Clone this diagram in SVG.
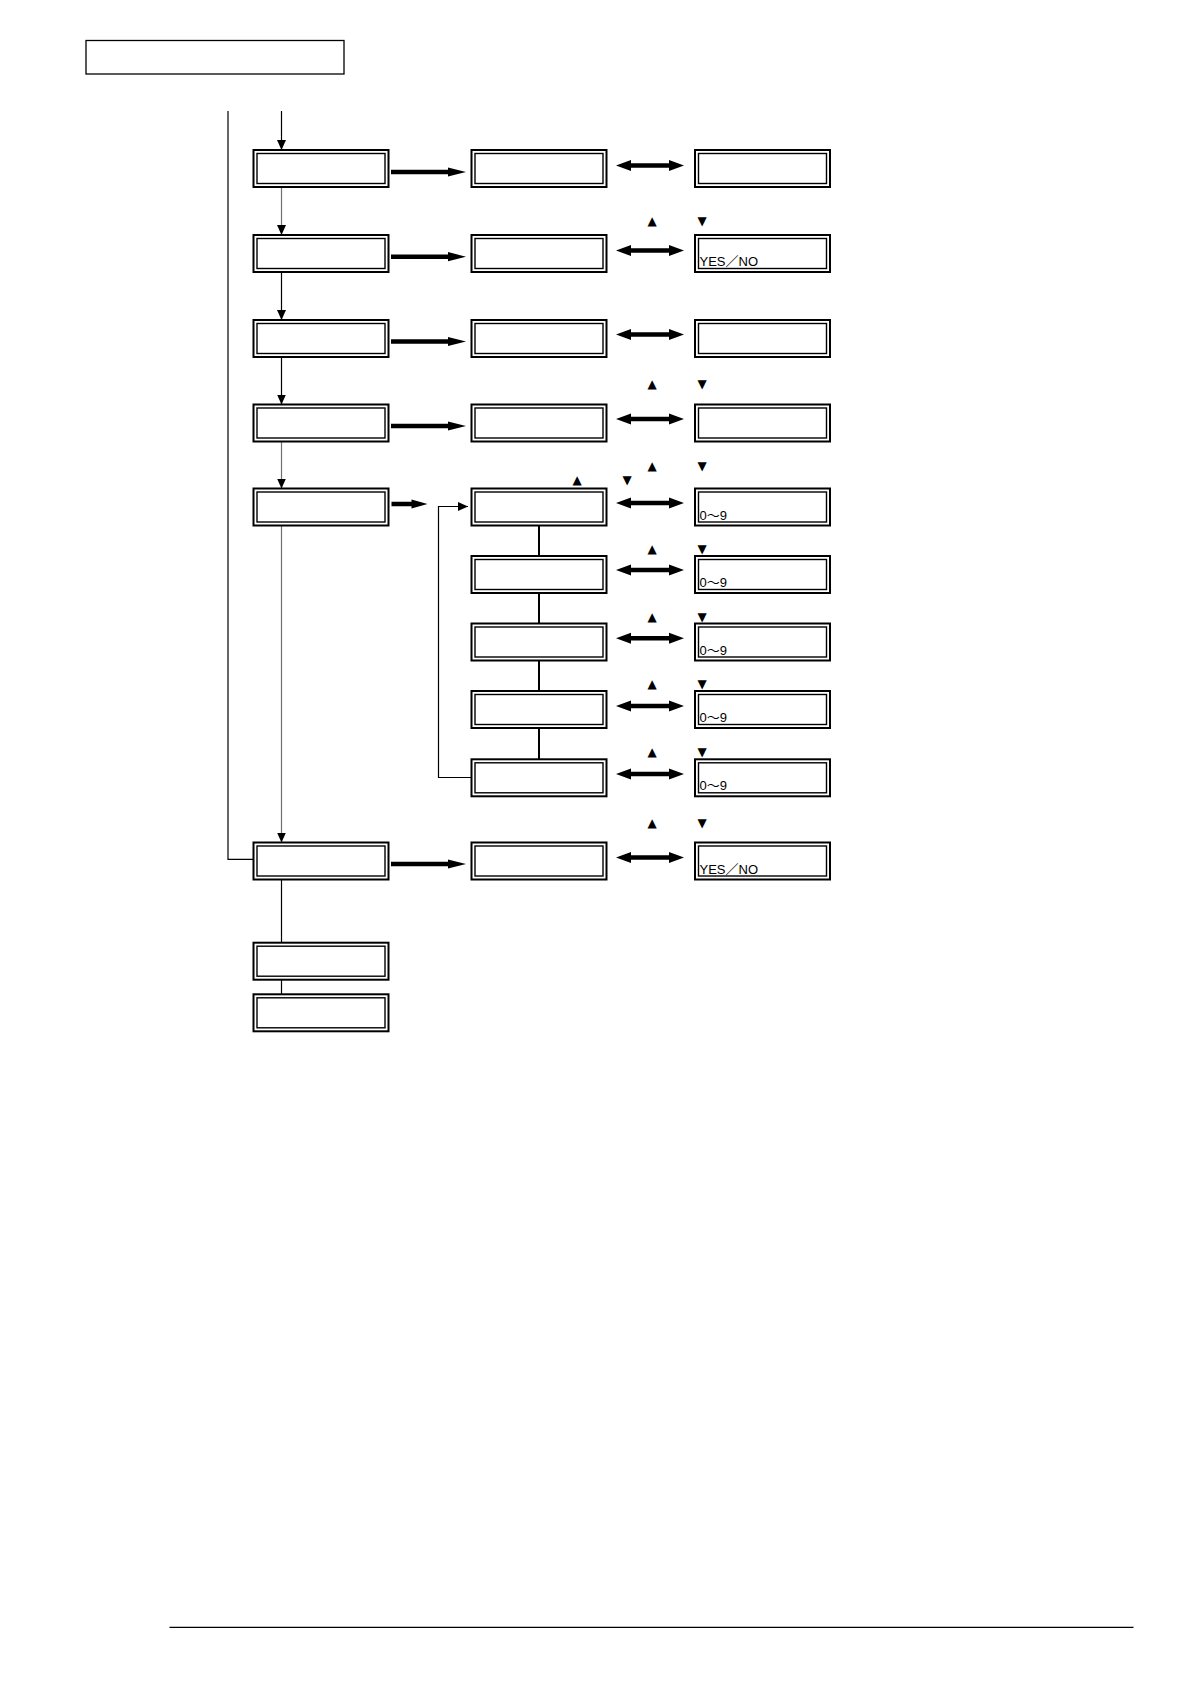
<svg xmlns="http://www.w3.org/2000/svg" xmlns:xlink="http://www.w3.org/1999/xlink" width="1191" height="1684" viewBox="0 0 1191 1684">
<style>
.outer{fill:#fff;stroke:#000;stroke-width:2}
.inner{fill:none;stroke:#000;stroke-width:1.4}
.hdr{fill:#fff;stroke:#000;stroke-width:1.3}
.thin{fill:none;stroke:#000;stroke-width:1.2}
.gray{fill:none;stroke:#707070;stroke-width:1.2}
.link{fill:none;stroke:#000;stroke-width:2}
.arr{fill:#000}
.lbl{font-family:"Liberation Sans","Noto Sans CJK JP",sans-serif;font-size:13px;fill:#000}
.key{font-family:"DejaVu Sans",sans-serif;font-size:12px;fill:#000;text-anchor:middle}
</style>
<defs>
<marker id="ah" markerUnits="userSpaceOnUse" markerWidth="10" markerHeight="10" refX="10" refY="5" orient="auto">
<path d="M0,0.5 L10,5 L0,9.5 Z" fill="#000"/>
</marker>
<path id="fwd" class="arr" d="M0,-2.3 H57 V-4.6 L75,0 L57,4.6 V2.3 H0 Z"/>
<path id="fwdShort" class="arr" d="M0,-2.3 H20 V-4.6 L36,0 L20,4.6 V2.3 H0 Z"/>
<path id="dbl" class="arr" d="M0,0 L15,-5.5 V-2.2 H53 V-5.5 L68,0 L53,5.5 V2.2 H15 V5.5 Z"/>
</defs>
<rect width="1191" height="1684" fill="#fff"/>

<g id="header"><rect class="hdr" x="86" y="40.5" width="258" height="33.5"/></g>

<g id="connectors">
<polyline class="thin" points="228,111 228,859.3 253.5,859.3"/>
<line class="thin" x1="281.5" y1="111" x2="281.5" y2="150" marker-end="url(#ah)"/>
<line class="gray" x1="281.5" y1="187" x2="281.5" y2="235" marker-end="url(#ah)"/>
<line class="thin" x1="281.5" y1="272" x2="281.5" y2="320" marker-end="url(#ah)"/>
<line class="thin" x1="281.5" y1="357" x2="281.5" y2="404.5" marker-end="url(#ah)"/>
<line class="gray" x1="281.5" y1="441.5" x2="281.5" y2="488.5" marker-end="url(#ah)"/>
<line class="gray" x1="281.5" y1="525.5" x2="281.5" y2="842.5" marker-end="url(#ah)"/>
<line class="thin" x1="281.5" y1="879.5" x2="281.5" y2="942.7"/>
<line class="thin" x1="281.5" y1="979.7" x2="281.5" y2="994.3"/>
<line class="link" x1="539" y1="525.5" x2="539" y2="556"/>
<line class="link" x1="539" y1="593" x2="539" y2="623.5"/>
<line class="link" x1="539" y1="660.5" x2="539" y2="691"/>
<line class="link" x1="539" y1="728" x2="539" y2="759.3"/>
<polyline class="thin" points="471.5,777.5 438.5,777.5 438.5,506.5 468,506.5" marker-end="url(#ah)"/>
<use xlink:href="#fwd" x="391" y="172"/>
<use xlink:href="#fwd" x="391" y="256.7"/>
<use xlink:href="#fwd" x="391" y="341.5"/>
<use xlink:href="#fwd" x="391" y="426"/>
<use xlink:href="#fwdShort" x="391.5" y="504"/>
<use xlink:href="#fwd" x="391" y="864"/>
<use xlink:href="#dbl" x="616" y="165.5"/>
<use xlink:href="#dbl" x="616" y="250.5"/>
<use xlink:href="#dbl" x="616" y="334.5"/>
<use xlink:href="#dbl" x="616" y="419"/>
<use xlink:href="#dbl" x="616" y="503"/>
<use xlink:href="#dbl" x="616" y="570"/>
<use xlink:href="#dbl" x="616" y="638.3"/>
<use xlink:href="#dbl" x="616" y="706"/>
<use xlink:href="#dbl" x="616" y="774"/>
<use xlink:href="#dbl" x="616" y="857.5"/>
</g>

<g id="keys">
<text class="key" x="652" y="225">▲</text><text class="key" x="702" y="225">▼</text>
<text class="key" x="652" y="387.5">▲</text><text class="key" x="702" y="387.5">▼</text>
<text class="key" x="652" y="470.3">▲</text><text class="key" x="702" y="470.3">▼</text>
<text class="key" x="577" y="484">▲</text><text class="key" x="627" y="484">▼</text>
<text class="key" x="652" y="553.3">▲</text><text class="key" x="702" y="553.3">▼</text>
<text class="key" x="652" y="620.5">▲</text><text class="key" x="702" y="620.5">▼</text>
<text class="key" x="652" y="688.3">▲</text><text class="key" x="702" y="688.3">▼</text>
<text class="key" x="652" y="756.3">▲</text><text class="key" x="702" y="756.3">▼</text>
<text class="key" x="652" y="826.5">▲</text><text class="key" x="702" y="826.5">▼</text>
</g>

<g id="n1a"><rect class="outer" x="253.5" y="150" width="135" height="37"/><rect class="inner" x="257" y="153.5" width="128" height="30"/></g>
<g id="n2a"><rect class="outer" x="253.5" y="235" width="135" height="37"/><rect class="inner" x="257" y="238.5" width="128" height="30"/></g>
<g id="n3a"><rect class="outer" x="253.5" y="320" width="135" height="37"/><rect class="inner" x="257" y="323.5" width="128" height="30"/></g>
<g id="n4a"><rect class="outer" x="253.5" y="404.5" width="135" height="37"/><rect class="inner" x="257" y="408" width="128" height="30"/></g>
<g id="n5a"><rect class="outer" x="253.5" y="488.5" width="135" height="37"/><rect class="inner" x="257" y="492" width="128" height="30"/></g>
<g id="n6a"><rect class="outer" x="253.5" y="842.5" width="135" height="37"/><rect class="inner" x="257" y="846" width="128" height="30"/></g>
<g id="n7a"><rect class="outer" x="253.5" y="942.7" width="135" height="37"/><rect class="inner" x="257" y="946.2" width="128" height="30"/></g>
<g id="n8a"><rect class="outer" x="253.5" y="994.3" width="135" height="37"/><rect class="inner" x="257" y="997.8" width="128" height="30"/></g>

<g id="n1b"><rect class="outer" x="471.5" y="150" width="135" height="37"/><rect class="inner" x="475" y="153.5" width="128" height="30"/></g>
<g id="n2b"><rect class="outer" x="471.5" y="235" width="135" height="37"/><rect class="inner" x="475" y="238.5" width="128" height="30"/></g>
<g id="n3b"><rect class="outer" x="471.5" y="320" width="135" height="37"/><rect class="inner" x="475" y="323.5" width="128" height="30"/></g>
<g id="n4b"><rect class="outer" x="471.5" y="404.5" width="135" height="37"/><rect class="inner" x="475" y="408" width="128" height="30"/></g>
<g id="n5b"><rect class="outer" x="471.5" y="488.5" width="135" height="37"/><rect class="inner" x="475" y="492" width="128" height="30"/></g>
<g id="s1b"><rect class="outer" x="471.5" y="556" width="135" height="37"/><rect class="inner" x="475" y="559.5" width="128" height="30"/></g>
<g id="s2b"><rect class="outer" x="471.5" y="623.5" width="135" height="37"/><rect class="inner" x="475" y="627" width="128" height="30"/></g>
<g id="s3b"><rect class="outer" x="471.5" y="691" width="135" height="37"/><rect class="inner" x="475" y="694.5" width="128" height="30"/></g>
<g id="s4b"><rect class="outer" x="471.5" y="759.3" width="135" height="37"/><rect class="inner" x="475" y="762.8" width="128" height="30"/></g>
<g id="n6b"><rect class="outer" x="471.5" y="842.5" width="135" height="37"/><rect class="inner" x="475" y="846" width="128" height="30"/></g>

<g id="n1c"><rect class="outer" x="695" y="150" width="135" height="37"/><rect class="inner" x="698.5" y="153.5" width="128" height="30"/></g>
<g id="n2c"><rect class="outer" x="695" y="235" width="135" height="37"/><rect class="inner" x="698.5" y="238.5" width="128" height="30"/><text class="lbl" x="699.5" y="266">YES／NO</text></g>
<g id="n3c"><rect class="outer" x="695" y="320" width="135" height="37"/><rect class="inner" x="698.5" y="323.5" width="128" height="30"/></g>
<g id="n4c"><rect class="outer" x="695" y="404.5" width="135" height="37"/><rect class="inner" x="698.5" y="408" width="128" height="30"/></g>
<g id="n5c"><rect class="outer" x="695" y="488.5" width="135" height="37"/><rect class="inner" x="698.5" y="492" width="128" height="30"/><text class="lbl" x="699.5" y="519.5">0～9</text></g>
<g id="s1c"><rect class="outer" x="695" y="556" width="135" height="37"/><rect class="inner" x="698.5" y="559.5" width="128" height="30"/><text class="lbl" x="699.5" y="587">0～9</text></g>
<g id="s2c"><rect class="outer" x="695" y="623.5" width="135" height="37"/><rect class="inner" x="698.5" y="627" width="128" height="30"/><text class="lbl" x="699.5" y="654.5">0～9</text></g>
<g id="s3c"><rect class="outer" x="695" y="691" width="135" height="37"/><rect class="inner" x="698.5" y="694.5" width="128" height="30"/><text class="lbl" x="699.5" y="722">0～9</text></g>
<g id="s4c"><rect class="outer" x="695" y="759.3" width="135" height="37"/><rect class="inner" x="698.5" y="762.8" width="128" height="30"/><text class="lbl" x="699.5" y="790.3">0～9</text></g>
<g id="n6c"><rect class="outer" x="695" y="842.5" width="135" height="37"/><rect class="inner" x="698.5" y="846" width="128" height="30"/><text class="lbl" x="699.5" y="874">YES／NO</text></g>

<line x1="169.5" y1="1627.3" x2="1133.5" y2="1627.3" stroke="#000" stroke-width="1.3"/>
</svg>
